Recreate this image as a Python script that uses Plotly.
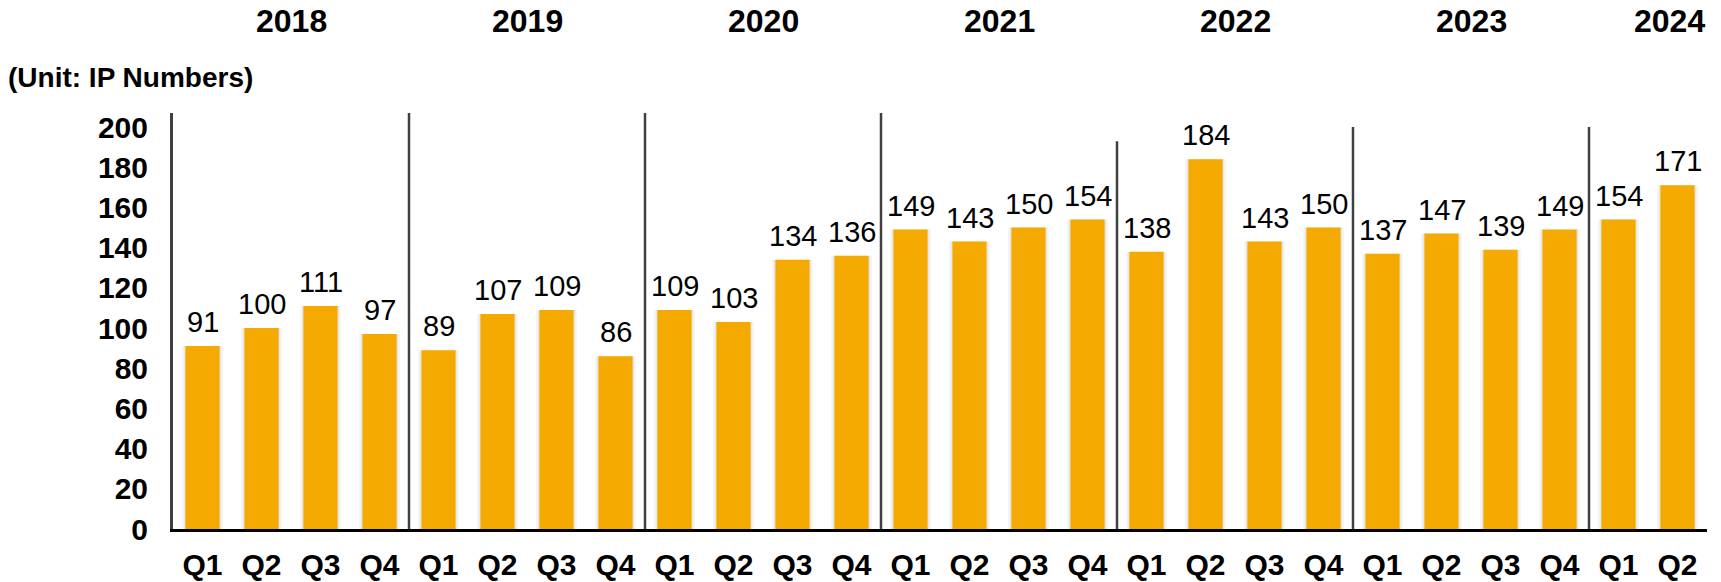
import plotly.graph_objects as go

years = ["2018", "2019", "2020", "2021", "2022", "2023", "2024"]
quarters_per_year = [4, 4, 4, 4, 4, 4, 2]
quarter_names = ["Q1", "Q2", "Q3", "Q4"]
values = [91, 100, 111, 97,
          89, 107, 109, 86,
          109, 103, 134, 136,
          149, 143, 150, 154,
          138, 184, 143, 150,
          137, 147, 139, 149,
          154, 171]
y_ticks = [0, 20, 40, 60, 80, 100, 120, 140, 160, 180, 200]
unit_label = "(Unit: IP Numbers)"

# build category labels
cats = []
qlabels = []
for y, n in zip(years, quarters_per_year):
    for q in quarter_names[:n]:
        cats.append(f"{y} {q}")
        qlabels.append(q)
idx = list(range(len(cats)))

# layout constants (pixels)
W, H = 1721, 582
L, R, T, B = 173, 14, 113, 53
plot_w = W - L - R
FONT = "Liberation Sans, Arial, sans-serif"
BAR_COLOR = "#F4AA00"
sep_tops = [207, 207, 207, 193, 200, 200]

fig = go.Figure()
# soft shadow layers
fig.add_trace(go.Bar(x=idx, y=values, width=0.70, marker=dict(color="rgba(0,0,0,0.035)", line=dict(width=0)),
                     hoverinfo="skip", showlegend=False))
fig.add_trace(go.Bar(x=idx, y=values, width=0.64, marker=dict(color="rgba(0,0,0,0.06)", line=dict(width=0)),
                     hoverinfo="skip", showlegend=False))
fig.add_trace(go.Bar(x=idx, y=values, width=0.58, marker=dict(color=BAR_COLOR, line=dict(width=0)),
                     showlegend=False))

annotations = []
for i, v in zip(idx, values):
    annotations.append(dict(x=i, y=v, xref="x", yref="y", text=str(v), showarrow=False,
                            yanchor="bottom", yshift=6,
                            font=dict(family=FONT, size=29, color="black")))

# year labels (centre of each year's group; last one right-aligned to axis end)
year_shift = T - 21
start = 0
for k, (y, n) in enumerate(zip(years, quarters_per_year)):
    center = start + (n - 1) / 2
    if k == len(years) - 1:
        annotations.append(dict(x=1.0, y=1, xref="paper", yref="paper", yshift=year_shift,
                                text=f"<b>{y}</b>", showarrow=False, xanchor="right", yanchor="middle",
                                font=dict(family=FONT, size=32, color="black")))
    else:
        annotations.append(dict(x=center, y=1, xref="x", yref="paper",
                                yshift=year_shift,
                                text=f"<b>{y}</b>", showarrow=False, xanchor="center", yanchor="middle",
                                font=dict(family=FONT, size=32, color="black")))
    start += n

annotations.append(dict(x=(6 - L) / plot_w, y=1, xref="paper", yref="paper", yshift=T - 77,
                        text=f"<b>{unit_label}</b>", showarrow=False, xanchor="left", yanchor="middle",
                        font=dict(family=FONT, size=28, color="black")))

shapes = []
start = 0
for k, n in enumerate(quarters_per_year[:-1]):
    start += n
    shapes.append(dict(type="line", xref="x", yref="y", x0=start - 0.5, x1=start - 0.5,
                       y0=0, y1=sep_tops[k], line=dict(color="#404040", width=2.5)))

fig.update_layout(
    width=W, height=H,
    margin=dict(l=L, r=R, t=T, b=B),
    plot_bgcolor="white", paper_bgcolor="white",
    barmode="overlay",
    annotations=annotations,
    shapes=shapes,
    xaxis=dict(
        tickmode="array", tickvals=idx, ticktext=[f"<b>{q}</b>" for q in qlabels],
        range=[-0.5, len(idx) - 0.5],
        showline=True, linecolor="black", linewidth=3,
        showgrid=False, zeroline=False, ticks="",
        tickfont=dict(family=FONT, size=30, color="black"),
        ticklabelstandoff=7,
        automargin=False,
    ),
    yaxis=dict(
        range=[0, 207],
        tickmode="array", tickvals=y_ticks, ticktext=[f"<b>{t}</b>" for t in y_ticks],
        showline=True, linecolor="#404040", linewidth=3,
        showgrid=False, zeroline=False, ticks="",
        tickfont=dict(family=FONT, size=30, color="black"),
        ticklabelstandoff=16,
        automargin=False,
    ),
)

fig.write_html("out.html",
               config={"displayModeBar": False},
               post_script="document.body.style.margin='0px';document.body.style.overflow='hidden';")
